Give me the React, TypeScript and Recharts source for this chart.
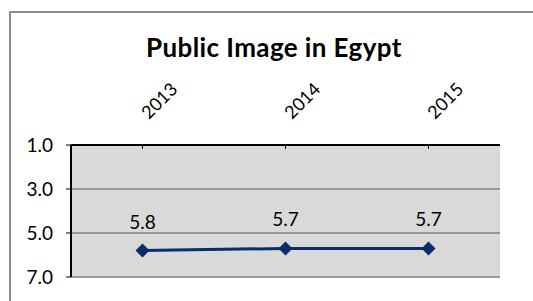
import { LineChart, Line, XAxis, YAxis, CartesianGrid, LabelList } from "recharts";

const YEARS = ["2013", "2014", "2015"];
const SCORES = [5.8, 5.7, 5.7];
const Y_TICKS = [1, 3, 5, 7];

const data = YEARS.map((year, i) => ({ year, score: SCORES[i] }));

const FONT = "Lato, 'Open Sans', sans-serif";
const NAVY = "#0b2c6b";

const Diamond = (props: any) => {
  const { cx, cy } = props;
  if (cx == null || cy == null) return null;
  const r = 7;
  return (
    <polygon
      points={`${cx},${cy - r} ${cx + r},${cy} ${cx},${cy + r} ${cx - r},${cy}`}
      fill={NAVY}
    />
  );
};

// rotated year label, baseline starts a bit right of the tick
const YearTick = (props: any) => {
  const { x, payload } = props;
  const tx = x + 6.5;
  const ty = 120;
  return (
    <text
      x={tx}
      y={ty}
      transform={`rotate(-45, ${tx}, ${ty})`}
      textAnchor="start"
      fontSize={18}
      fontFamily={FONT}
      fill="#000"
    >
      {payload.value}
    </text>
  );
};

export default function App() {
  return (
    <div style={{ position: "absolute", left: 0, top: 0, width: 533, height: 301, background: "#fff", overflow: "hidden" }}>
      <div
        style={{
          position: "absolute",
          left: 9,
          top: 11,
          width: 600,
          height: 400,
          borderLeft: "2px solid #8c8c8c",
          borderTop: "2px solid #8c8c8c",
        }}
      />
      <div
        style={{
          position: "absolute",
          left: 0,
          width: 548,
          top: 34,
          textAlign: "center",
          fontFamily: FONT,
          fontWeight: "bold",
          fontSize: 26,
          letterSpacing: 0.4,
          lineHeight: "26px",
        }}
      >
        Public Image in Egypt
      </div>
      <div style={{ position: "absolute", left: 0, top: 0 }}>
        <LineChart width={533} height={301} data={data} margin={{ top: 85, right: 33, bottom: 24, left: 11 }}>
          <CartesianGrid fill="#d9d9d9" vertical={false} stroke="#808080" strokeWidth={1.5} />
          <XAxis
            dataKey="year"
            orientation="top"
            height={60}
            padding={{ left: 71.5, right: 71.5 }}
            axisLine={{ stroke: "#000", strokeWidth: 2 }}
            tickLine={{ stroke: "#000" }}
            tickSize={-4}
            tickMargin={25}
            tick={<YearTick />}
            interval={0}
          />
          <XAxis
            xAxisId="bottom"
            dataKey="year"
            orientation="bottom"
            height={0}
            tick={false}
            tickLine={false}
            axisLine={{ stroke: "#000", strokeWidth: 2 }}
          />
          <YAxis
            reversed
            domain={[1, 7]}
            ticks={Y_TICKS}
            width={60}
            tickFormatter={(v) => Number(v).toFixed(1)}
            tick={{ fill: "#000", fontSize: 19, fontFamily: FONT }}
            axisLine={{ stroke: "#000", strokeWidth: 2 }}
            tickLine={{ stroke: "#000" }}
            tickSize={5}
            tickMargin={13}
          />
          <YAxis
            yAxisId="right"
            orientation="right"
            width={0}
            tick={false}
            tickLine={false}
            axisLine={{ stroke: "#222", strokeWidth: 2 }}
          />
          <Line
            dataKey="score"
            stroke={NAVY}
            strokeWidth={3}
            dot={<Diamond />}
            activeDot={false}
            isAnimationActive={false}
          >
            <LabelList
              dataKey="score"
              position="top"
              offset={22}
              formatter={(v: any) => Number(v).toFixed(1)}
              style={{ fill: "#000", fontSize: 19, fontFamily: FONT }}
            />
          </Line>
        </LineChart>
      </div>
    </div>
  );
}
